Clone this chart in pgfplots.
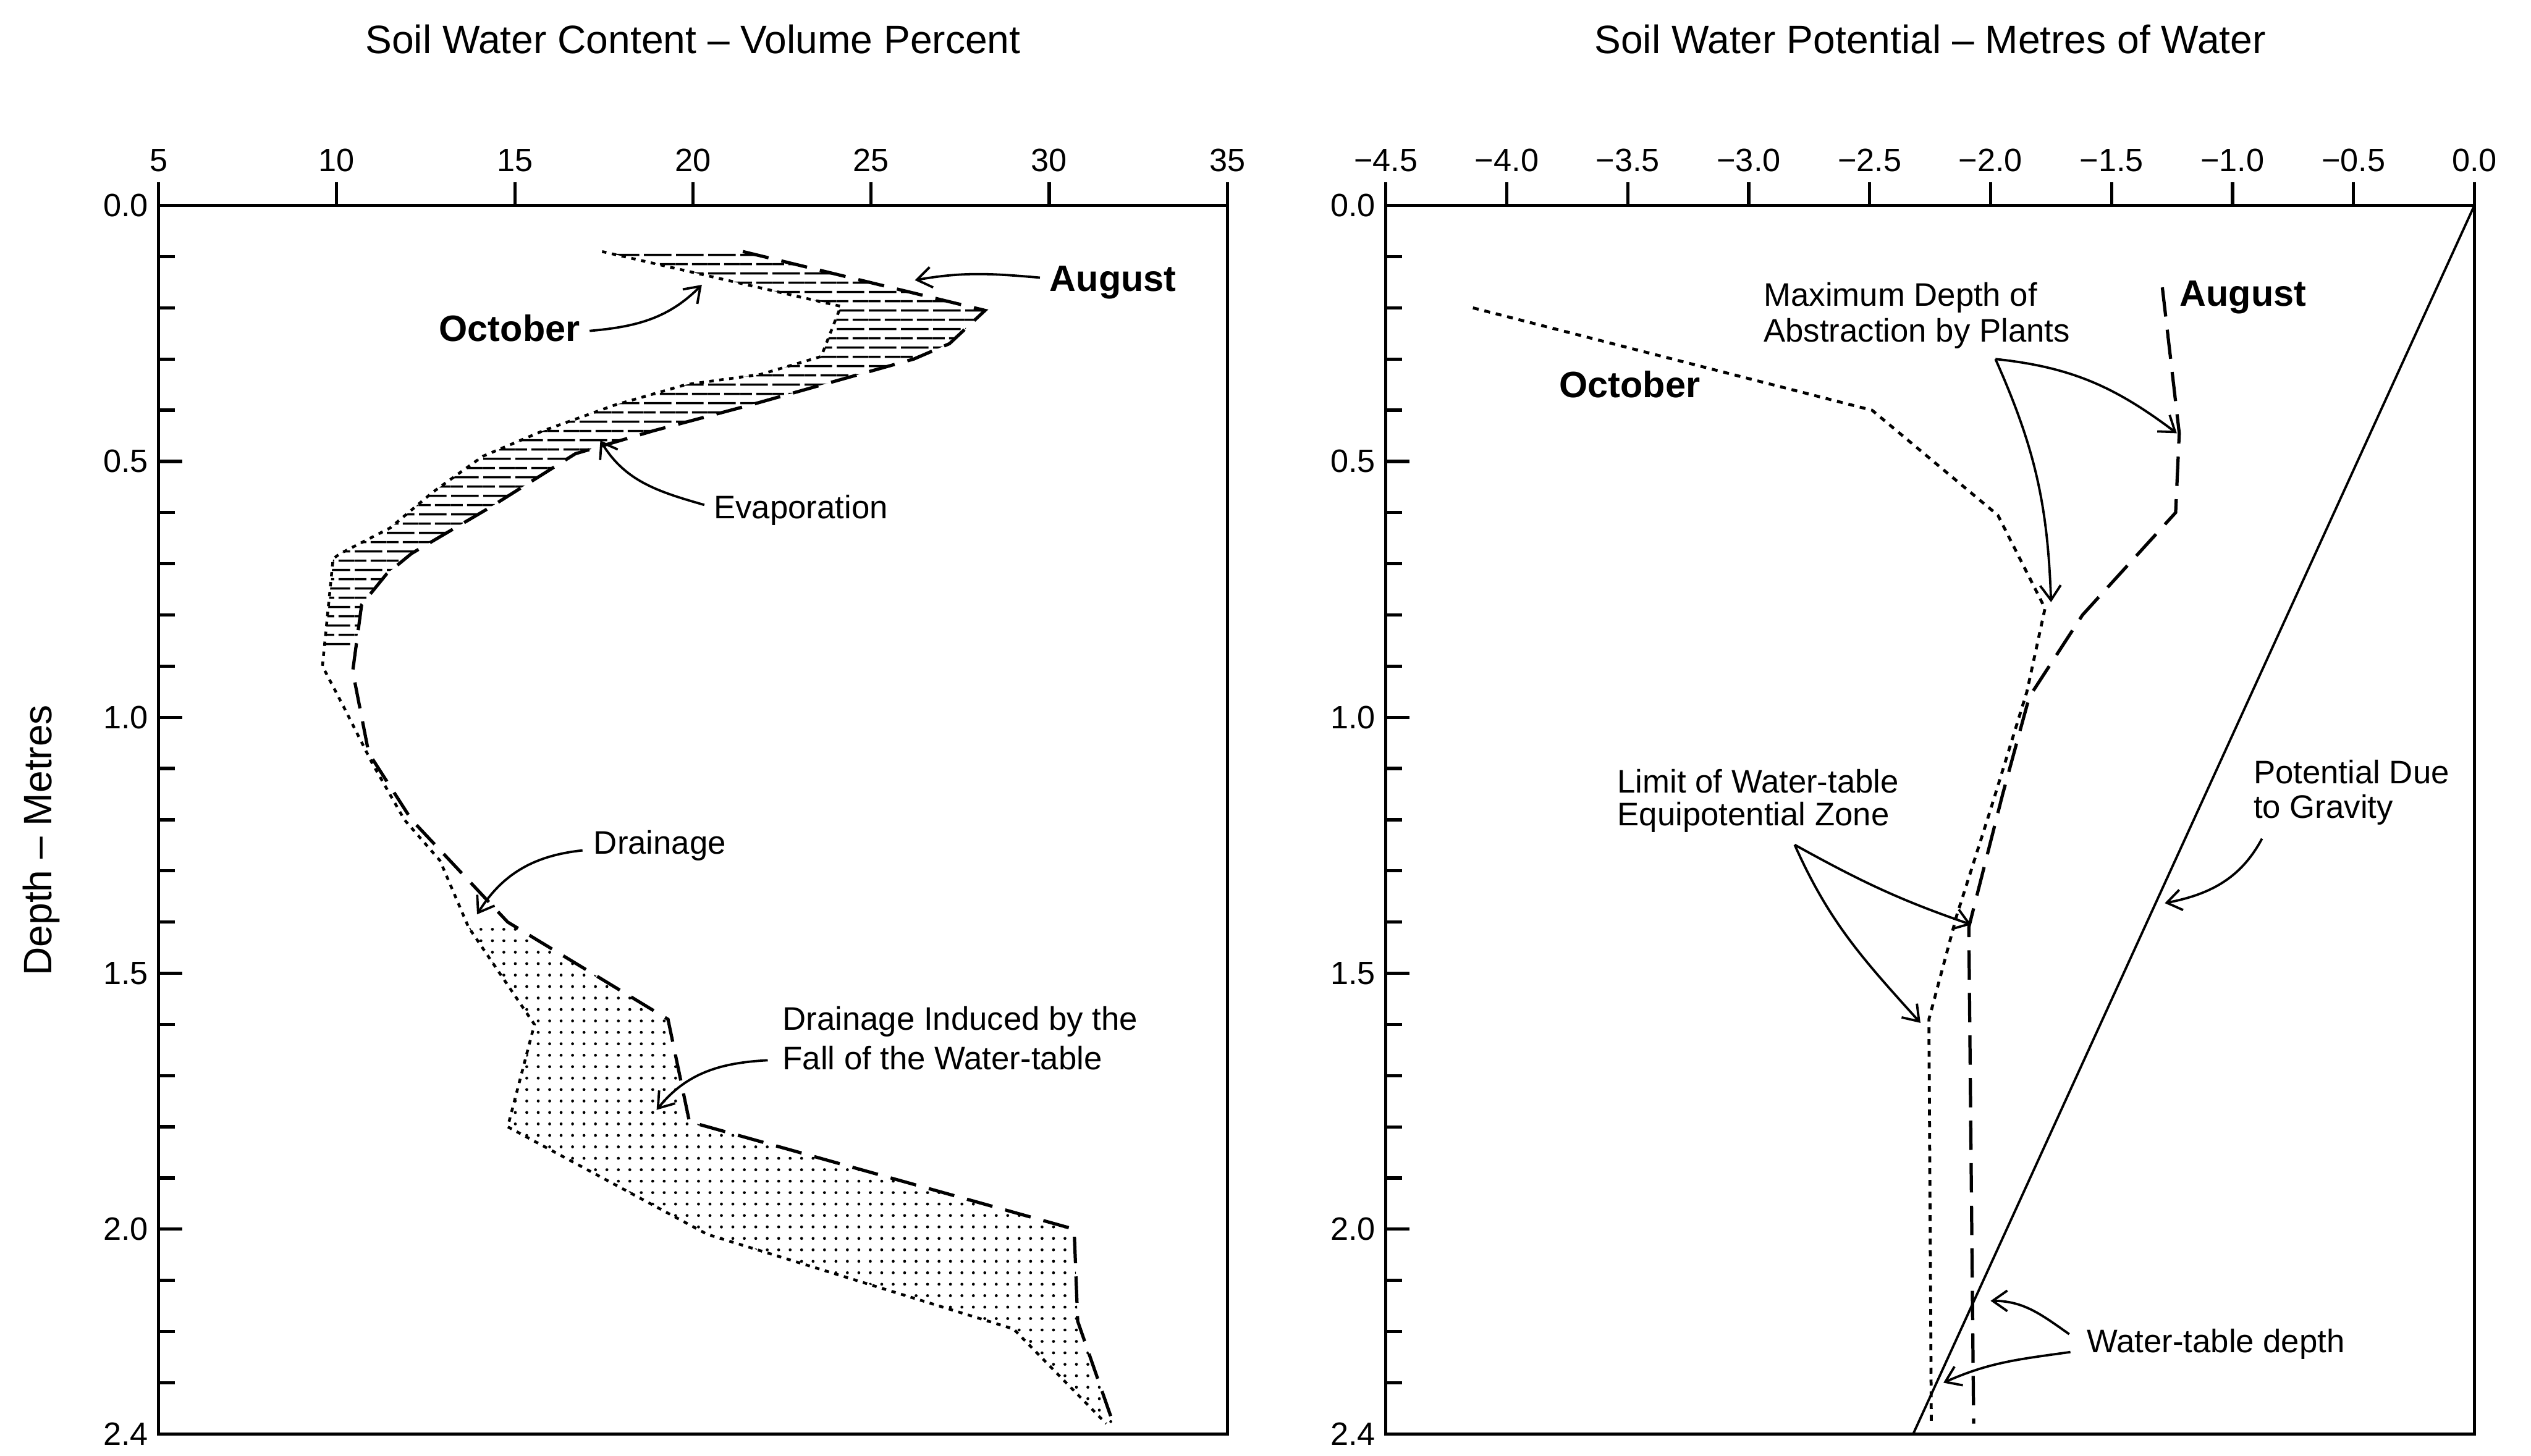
\documentclass[border=0pt]{standalone}
\usepackage{fontspec}
\setmainfont{Liberation Sans}
\usepackage{pgfplots}
\usepackage{pgfplotstable}
\pgfplotsset{compat=1.18}
\usepgfplotslibrary{fillbetween}
\usetikzlibrary{patterns.meta,arrows.meta}

\newcommand{\anno}{\fontsize{11.1}{12.5}\selectfont}
\newcommand{\bold}{\fontsize{12.5}{14}\selectfont\bfseries}
\newcommand{\ttl}{\fontsize{13.5}{15}\selectfont}

% broken horizontal hatching for the evaporation band
\pgfdeclarepattern{
  name=hatchdash, type=uncolored,
  bottom left={\pgfpoint{0pt}{0pt}},
  top right={\pgfpoint{11pt}{6.4pt}},
  tile size={\pgfpoint{11pt}{6.4pt}},
  code={
    \pgfsetlinewidth{0.75pt}
    \pgfpathmoveto{\pgfpoint{0pt}{1.6pt}}
    \pgfpathlineto{\pgfpoint{9.5pt}{1.6pt}}
    \pgfpathmoveto{\pgfpoint{0pt}{4.8pt}}
    \pgfpathlineto{\pgfpoint{4pt}{4.8pt}}
    \pgfpathmoveto{\pgfpoint{5.5pt}{4.8pt}}
    \pgfpathlineto{\pgfpoint{11pt}{4.8pt}}
    \pgfusepath{stroke}
  }
}

% soil water content (volume percent) against depth (m)
\pgfplotstableread{
x y
17.45 0.09
24.15 0.197
23.6 0.295
21.9 0.33
19.8 0.35
17.8 0.39
15.8 0.44
14.1 0.49
12.7 0.56
11.5 0.63
10.1 0.68
9.9 0.69
9.6 0.90
10.2 0.98
11.0 1.09
11.9 1.20
12.9 1.28
13.7 1.41
15.55 1.60
14.8 1.80
20.4 2.01
29.0 2.195
31.6 2.38
}\contentOct
\pgfplotstableread{
x y
21.4 0.09
28.2 0.205
27.2 0.27
26.2 0.30
23.9 0.345
21.6 0.39
18.9 0.44
16.7 0.485
14.3 0.59
12.1 0.68
11.4 0.72
10.7 0.78
10.45 0.91
10.9 1.07
12.1 1.20
14.8 1.40
19.3 1.59
19.9 1.79
30.7 2.00
30.8 2.18
31.8 2.38
}\contentAug
% soil water potential (m of water) against depth (m)
\pgfplotstableread{
x y
-4.14 0.20
-2.49 0.40
-1.97 0.605
-1.775 0.787
-1.85 0.95
-2.0 1.18
-2.14 1.387
-2.255 1.59
-2.245 2.385
}\potentialOct
\pgfplotstableread{
x y
-1.29 0.16
-1.22 0.445
-1.235 0.60
-1.62 0.80
-1.84 0.96
-1.95 1.15
-2.09 1.41
-2.07 2.38
}\potentialAug
\pgfplotstableread{
x y
0 0
-2.32 2.4
}\gravity

\pgfplotsset{
  panel/.style={
    anchor=north west, scale only axis, height=418.5pt,
    ymin=0, ymax=2.4, y dir=reverse, clip=false,
    axis line style={line width=1.1pt},
    tick style={line width=1.1pt, black},
    major tick length=8pt, minor tick length=5.5pt,
    xtick pos=upper, xticklabel pos=upper, xtick align=outside,
    ytick pos=left, ytick align=inside,
    ytick={0,0.5,1,1.5,2,2.4},
    yticklabels={0.0,0.5,1.0,1.5,2.0,2.4},
    minor ytick={0.1,0.2,0.3,0.4,0.6,0.7,0.8,0.9,1.1,1.2,1.3,1.4,1.6,1.7,1.8,1.9,2.1,2.2,2.3},
    tick label style={font=\fontsize{11}{13}\selectfont},
    /pgf/number format/assume math mode=true,
  },
  octline/.style={black, line width=0.95pt, dash pattern=on 1.5pt off 1.9pt},
  augline/.style={black, line width=1.1pt, dash pattern=on 9pt off 4.5pt},
}
\tikzset{
  arr/.style={black, line width=0.8pt, -{Straight Barb[length=5pt,width=7pt]}},
  txt/.style={anchor=west, inner sep=0pt, font=\anno},
}

\begin{document}
\begin{tikzpicture}

\begin{axis}[panel, at={(0pt,0pt)}, width=364pt,
  xmin=5, xmax=35, xtick={5,10,15,20,25,30,35},
  xticklabels={5,10,15,20,25,30,35}]
  \addplot[octline, name path=octL] table {\contentOct};
  \addplot[augline, name path=augL] table {\contentAug};
  \addplot[pattern=hatchdash, draw=none] fill between[of=octL and augL, soft clip={domain y=0:0.86}];
  \addplot[pattern={Dots[distance=3.9pt, radius=0.5pt]}, draw=none] fill between[of=octL and augL, soft clip={domain y=1.40:2.4}];

  \node[font=\ttl] at (axis description cs:0.5,1) [yshift=56.7pt] {Soil Water Content -- Volume Percent};
  \node[font=\ttl, xshift=-40pt, yshift=-7pt, rotate=90] at (axis description cs:0,0.5) {Depth -- Metres};

  \node[anchor=west, inner sep=0pt, font=\bold] at (axis cs:30.0,0.151) {August};
  \draw[arr] (axis cs:29.74,0.141) to[out=175,in=10] (axis cs:26.23,0.146);
  \node[anchor=west, inner sep=0pt, font=\bold] at (axis cs:12.86,0.24) {October};
  \draw[arr] (axis cs:17.1,0.245) to[out=5,in=-135] (axis cs:20.25,0.155);
  \node[txt] at (axis cs:20.57,0.595) {Evaporation};
  \draw[arr] (axis cs:20.32,0.585) to[out=164,in=-59] (axis cs:17.4,0.459);
  \node[txt] at (axis cs:17.2,1.25) {Drainage};
  \draw[arr] (axis cs:16.9,1.26) to[out=186,in=58] (axis cs:13.94,1.385);
  \node[txt] at (axis cs:22.5,1.595) {Drainage Induced by the};
  \node[txt] at (axis cs:22.5,1.665) {Fall of the Water-table};
  \draw[arr] (axis cs:22.1,1.67) to[out=183,in=51] (axis cs:18.98,1.767);
\end{axis}

\begin{axis}[panel, at={(418pt,0pt)}, width=370.7pt,
  xmin=-4.5, xmax=0, xtick={-4.5,-4,-3.5,-3,-2.5,-2,-1.5,-1,-0.5,0},
  xticklabels={−4.5,−4.0,−3.5,−3.0,−2.5,−2.0,−1.5,−1.0,−0.5,0.0}]
  \addplot[black, line width=0.8pt] table {\gravity};
  \addplot[black, line width=1pt, dash pattern=on 2pt off 2pt] table {\potentialOct};
  \addplot[black, line width=1.1pt, dash pattern=on 10pt off 4.5pt] table {\potentialAug};

  \node[font=\ttl] at (axis description cs:0.5,1) [yshift=56.7pt] {Soil Water Potential -- Metres of Water};

  \node[anchor=west, inner sep=0pt, font=\bold] at (axis cs:-1.22,0.18) {August};
  \node[anchor=west, inner sep=0pt, font=\bold] at (axis cs:-3.785,0.35) {October};
  \node[txt] at (axis cs:-2.94,0.18) {Maximum Depth of};
  \node[txt] at (axis cs:-2.94,0.25) {Abstraction by Plants};
  \draw[arr] (axis cs:-1.98,0.30) to[out=-66,in=92] (axis cs:-1.75,0.775);
  \draw[arr] (axis cs:-1.98,0.30) to[out=-6,in=143] (axis cs:-1.23,0.445);
  \node[txt] at (axis cs:-3.545,1.125) {Limit of Water-table};
  \node[txt] at (axis cs:-3.545,1.195) {Equipotential Zone};
  \draw[arr] (axis cs:-2.81,1.249) to[out=-29,in=161] (axis cs:-2.08,1.405);
  \draw[arr] (axis cs:-2.81,1.249) to[out=-66,in=132] (axis cs:-2.29,1.597);
  \node[txt] at (axis cs:-0.915,1.107) {Potential Due};
  \node[txt] at (axis cs:-0.915,1.18) {to Gravity};
  \draw[arr] (axis cs:-0.878,1.237) to[out=-118,in=11] (axis cs:-1.28,1.363);
  \node[txt] at (axis cs:-1.604,2.225) {Water-table depth};
  \draw[arr] (axis cs:-1.675,2.205) to[out=145,in=0] (axis cs:-2.0,2.14);
  \draw[arr] (axis cs:-1.67,2.24) to[out=188,in=24] (axis cs:-2.195,2.30);
\end{axis}

\pgfresetboundingbox
\path[use as bounding box] (-54pt,-426pt) rectangle (808pt,70pt);
\end{tikzpicture}
\end{document}
